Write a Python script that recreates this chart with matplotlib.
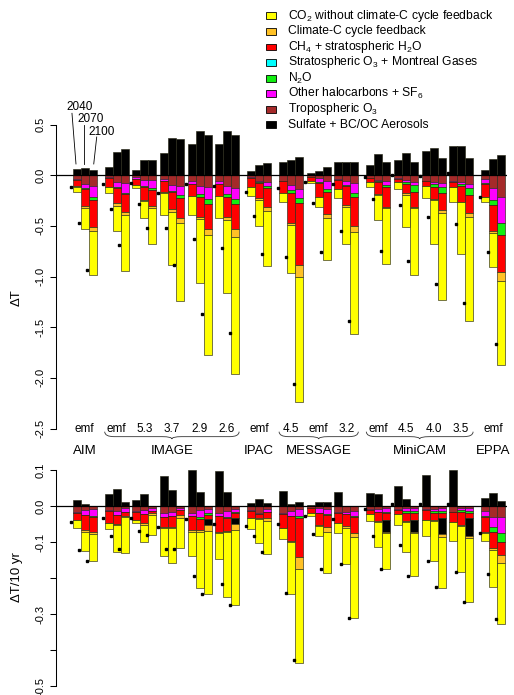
import matplotlib
matplotlib.use('agg')
import matplotlib.pyplot as plt
import numpy as np
from matplotlib.patches import Rectangle, PathPatch
from matplotlib.path import Path

plt.rcParams['font.family'] = ['Liberation Sans', 'DejaVu Sans']

# scenario layout: models and their scenarios, 3 years per scenario
models = ['AIM', 'IMAGE', 'IPAC', 'MESSAGE', 'MiniCAM', 'EPPA']
model_scen = [['emf'], ['emf', '5.3', '3.7', '2.9', '2.6'], ['emf'],
              ['4.5', 'emf', '3.2'], ['emf', '4.5', '4.0', '3.5'], ['emf']]
years = ['2040', '2070', '2100']
braced = ['IMAGE', 'MESSAGE', 'MiniCAM']

legend_labels = ['CO$\\mathregular{_2}$ without climate-C cycle feedback',
                 'Climate-C cycle feedback',
                 'CH$\\mathregular{_4}$ + stratospheric H$\\mathregular{_2}$O',
                 'Stratospheric O$\\mathregular{_3}$ + Montreal Gases',
                 'N$\\mathregular{_2}$O',
                 'Other halocarbons + SF$\\mathregular{_6}$',
                 'Tropospheric O$\\mathregular{_3}$',
                 'Sulfate + BC/OC Aerosols']
colors = ['#FFFF00', '#FFC125', '#FF0000', '#00FFFF', '#11EE11', '#FF00FF', '#A52A2A', '#000000']

# ---- upper panel: dT (K), 15 scenarios x (2040, 2070, 2100) ----
dT_co2 = [-.050, -.205, -.430, -.050, -.250, -.555, -.035, -.175, -.355, -.220, -.525, -.770,
          -.185, -.636, -1.180, -.215, -.725, -1.355, -.082, -.257, -.550, -.089, -.470, -1.240,
          -.015, -.095, -.411, -.089, -.370, -1.014, -.056, -.250, -.560, -.076, -.317, -.659,
          -.122, -.433, -.862, -.148, -.515, -1.026, -.051, -.336, -.830]
dT_climc = [-.005, -.025, -.040, 0, -.030, -.030, 0, -.010, -.025, -.005, -.025, -.050,
            0, -.020, -.060, 0, -.030, -.075, 0, -.016, -.034, 0, -.023, -.115,
            0, -.005, -.039, 0, -.020, -.056, 0, -.006, -.009, 0, -.012, -.016,
            0, -.008, -.026, 0, -.005, -.040, -.005, -.026, -.090]
dT_ch4 = [-.065, -.160, -.270, -.090, -.140, -.175, -.055, -.125, -.155, -.105, -.175, -.200,
          -.115, -.200, -.245, -.115, -.200, -.245, -.088, -.147, -.188, -.111, -.296, -.609,
          -.040, -.135, -.225, -.088, -.180, -.290, -.037, -.114, -.197, -.028, -.093, -.148,
          -.047, -.119, -.164, -.053, -.155, -.174, -.125, -.253, -.361]
dT_strat = [0, 0, 0, 0, 0, 0, 0, 0, 0, 0, 0, 0, 0, 0, 0,
            0, 0, 0, 0, 0, 0, 0, 0, 0, 0, 0, 0, 0, 0, 0,
            0, 0, 0, 0, 0, 0, 0, 0, 0, 0, 0, 0, 0, 0, 0]
dT_n2o = [0, -.010, -.030, 0, -.010, -.015, 0, -.010, -.015, 0, -.010, -.025,
          0, -.025, -.050, 0, -.025, -.050, 0, -.014, -.023, 0, -.026, -.049,
          0, -.009, -.022, 0, -.010, -.032, 0, -.010, -.017, 0, -.015, -.062,
          0, -.038, -.060, 0, -.015, -.066, -.013, -.050, -.122]
dT_halo = [-.010, -.045, -.105, -.010, -.050, -.090, -.020, -.055, -.080, -.020, -.050, -.085,
           -.030, -.080, -.115, -.030, -.075, -.107, -.010, -.013, -.036, -.007, -.050, -.089,
           0, -.036, -.085, -.010, -.047, -.099, 0, -.014, -.042, -.005, -.024, -.037,
           -.005, -.018, -.039, -.005, -.021, -.042, -.032, -.115, -.257]
dT_trop = [-.035, -.085, -.105, -.020, -.070, -.080, -.020, -.050, -.050, -.040, -.100, -.110,
           -.060, -.105, -.120, -.060, -.110, -.128, -.020, -.053, -.069, -.053, -.095, -.138,
           -.020, -.030, -.053, -.040, -.053, -.079, -.026, -.046, -.053, -.030, -.046, -.063,
           -.053, -.063, -.079, -.060, -.069, -.086, -.040, -.128, -.210]
dT_aero = [.060, .070, .053, .085, .230, .260, .050, .150, .150, .220, .365, .355,
           .305, .440, .400, .305, .440, .400, .046, .100, .125, .135, .150, .184,
           .020, .046, .080, .128, .128, .128, .100, .207, .128, .150, .224, .135,
           .240, .270, .168, .290, .290, .174, .053, .158, .200]
dT_dot = [-.120, -.470, -.930, -.085, -.330, -.690, -.080, -.280, -.520, -.170, -.520, -.885,
          -.085, -.625, -1.370, -.110, -.720, -1.560, -.160, -.405, -.776, -.128, -.810, -2.060,
          -.070, -.270, -.757, -.090, -.550, -1.440, -.013, -.237, -.747, 0, -.290, -.850,
          -.010, -.408, -1.070, .020, -.480, -1.263, -.210, -.753, -1.668]

# ---- lower panel: dT per decade (K / 10 yr) ----
r_co2 = [-.023, -.051, -.075, -.019, -.076, -.100, -.009, -.048, -.056, -.077, -.099, -.086,
         -.067, -.158, -.176, -.073, -.181, -.208, -.031, -.065, -.093, -.030, -.143, -.261,
         -.007, -.027, -.116, -.028, -.102, -.225, -.020, -.069, -.102, -.031, -.083, -.118,
         -.044, -.111, -.142, -.052, -.128, -.178, -.022, -.102, -.169]
r_climc = [0, -.006, -.005, 0, -.003, -.003, 0, -.004, -.004, -.005, -.003, -.007,
           -.004, -.004, -.016, -.003, -.004, -.017, 0, -.003, -.007, 0, -.005, -.033,
           0, -.002, -.012, 0, -.004, -.013, 0, -.002, -.003, 0, -.002, -.005,
           0, -.002, -.007, 0, -.002, -.007, -.003, -.004, -.023]
r_ch4 = [-.019, -.042, -.042, -.031, -.025, -.012, -.021, -.026, -.007, -.027, -.029, -.014,
         -.039, -.032, -.012, -.043, -.035, -.014, -.021, -.013, -.016, -.040, -.068, -.109,
         -.014, -.034, -.035, -.029, -.034, -.043, -.011, -.024, -.019, -.011, -.023, -.020,
         -.028, -.019, -.014, -.026, -.037, -.014, -.040, -.047, -.037]
r_strat = [0, 0, 0, 0, 0, 0, 0, 0, 0, 0, 0, 0, 0, 0, 0,
           0, 0, 0, 0, 0, 0, 0, 0, 0, 0, 0, 0, 0, 0, 0,
           0, 0, 0, 0, 0, 0, 0, 0, 0, 0, 0, 0, 0, 0, 0]
r_n2o = [0, 0, -.003, 0, 0, 0, 0, 0, 0, 0, 0, 0,
         0, -.004, -.005, 0, -.003, -.004, 0, 0, -.002, 0, 0, -.006,
         0, 0, -.002, 0, 0, -.003, 0, 0, -.004, 0, -.006, -.006,
         0, -.006, -.007, 0, -.005, -.006, -.003, -.014, -.023]
r_halo = [-.004, -.014, -.019, -.004, -.012, -.010, -.005, -.011, -.007, -.010, -.012, -.005,
          -.008, -.020, -.011, -.008, -.018, -.009, -.002, -.002, -.009, -.003, -.013, -.019,
          0, -.013, -.013, -.003, -.006, -.015, -.002, -.009, -.010, -.002, -.007, -.007,
          -.002, -.005, -.007, -.002, -.005, -.008, -.014, -.027, -.046]
r_trop = [-.016, -.011, -.009, -.011, -.013, -.006, -.013, -.011, -.006, -.020, -.016, -.006,
          -.020, -.011, -.009, -.020, -.013, -.007, -.011, -.019, -.007, -.019, -.015, -.009,
          -.006, -.006, -.009, -.016, -.016, -.013, -.009, -.009, -.006, -.009, -.006, -.006,
          -.009, -.009, -.006, -.016, -.006, -.006, -.014, -.030, -.030]
r_aero = [.017, .005, 0, .034, .046, .012, .018, .032, 0, .083, .044, 0,
          .100, .038, -.016, .098, .040, -.016, .009, .019, .009, .043, .006, .012,
          .002, .012, .012, .040, 0, 0, .037, .032, -.032, .056, .019, -.032,
          .086, 0, -.044, .100, 0, -.049, .021, .037, .014]
r_dot = [-.045, -.121, -.154, -.032, -.083, -.120, -.032, -.069, -.080, -.057, -.119, -.120,
         -.037, -.194, -.244, -.051, -.217, -.275, -.056, -.083, -.127, -.050, -.241, -.428,
         -.027, -.078, -.175, -.037, -.161, -.312, -.008, -.082, -.176, .005, -.108, -.194,
         .005, -.152, -.226, .005, -.182, -.268, -.074, -.189, -.315]

W, H = 514, 695

# bar positions (bar width = 1)
gap_in, gap_out = 0.45, 1.0
scen_left = []
model_span = []
pos = 0.0
for scen in model_scen:
    start = pos
    for s in scen:
        scen_left.append(pos)
        pos += 3 + gap_in
    model_span.append((start, pos - gap_in))
    pos += gap_out - gap_in
scen_left = np.array(scen_left)
bar_left = (scen_left[:, None] + np.arange(3)[None, :]).ravel()
bar_x = bar_left + 0.5
scen_labels = [s for scen in model_scen for s in scen]

edge = '#2a2a1a'


def draw_panel(ax, co2, climc, ch4, strat, n2o, halo, trop, aero, dots):
    aero = np.array(aero)
    neg_aero = np.minimum(aero, 0)
    stack = [(trop, colors[6]), (halo, colors[5]), (n2o, colors[4]), (strat, colors[3]),
             (ch4, colors[2]), (neg_aero, colors[7]), (climc, colors[1]), (co2, colors[0])]
    base = np.zeros(len(bar_x))
    for vals, col in stack:
        vals = np.array(vals, dtype=float)
        ax.bar(bar_x, vals, width=1.0, bottom=base, color=col, edgecolor=edge, linewidth=0.45, zorder=2)
        base = base + vals
    ax.bar(bar_x, np.maximum(aero, 0), width=1.0, bottom=0, color='black', edgecolor=edge,
           linewidth=0.45, zorder=2)
    ax.plot(bar_left - 0.2, dots, 's', color='black', markersize=1.7, zorder=4)
    ax.axhline(0, color='black', lw=0.9, zorder=3)
    for s in ['top', 'right', 'bottom']:
        ax.spines[s].set_visible(False)
    ax.spines['left'].set_linewidth(0.75)
    ax.set_xticks([])
    ax.set_xlim(-(72.7 - 56) / 8, (507 - 72.7) / 8)
    ax.tick_params(axis='y', labelrotation=90, length=4.3, width=0.75, pad=3.5, labelsize=8)
    ax.patch.set_visible(False)


fig = plt.figure(figsize=(W / 100, H / 100), dpi=100)

# upper panel
ax1 = fig.add_axes([56 / W, 1 - 463.0 / H, 451 / W, (463.0 - 112.5) / H])
draw_panel(ax1, dT_co2, dT_climc, dT_ch4, dT_strat, dT_n2o, dT_halo, dT_trop, dT_aero, dT_dot)
ax1.set_ylim(-2.84, 0.62)
ax1.set_yticks([0.5, 0.0, -0.5, -1.0, -1.5, -2.0, -2.5])
ax1.set_yticklabels(['0.5', '0.0', '-0.5', '-1.0', '-1.5', '-2.0', '-2.5'])
for lab in ax1.get_yticklabels():
    lab.set_va('center')
ax1.spines['left'].set_bounds(-2.5, 0.5)

# scenario / model labels and braces
for xl, s in zip(scen_left, scen_labels):
    ax1.text(xl + 1.5, -2.504, s, ha='center', va='center', fontsize=8.5, clip_on=False)
for m, (a, b) in zip(models, model_span):
    xc = (a + b) / 2
    ax1.text(xc, -2.722, m, ha='center', va='center', fontsize=9.5, clip_on=False)
    if m in braced:
        yt, ym, yb, r = -2.531, -2.580, -2.603, 1.2
        verts = [(a, yt), (a, ym), (a + r, ym), (xc - r, ym), (xc, ym), (xc, yb),
                 (xc, ym), (xc + r, ym), (b - r, ym), (b, ym), (b, yt)]
        codes = [Path.MOVETO, Path.CURVE3, Path.CURVE3, Path.LINETO, Path.CURVE3, Path.CURVE3,
                 Path.CURVE3, Path.CURVE3, Path.LINETO, Path.CURVE3, Path.CURVE3]
        ax1.add_patch(PathPatch(Path(verts, codes), fill=False, lw=0.6, edgecolor='#333333',
                                clip_on=False))

# year annotations on the first scenario
year_text = [(0.91, 0.674), (2.26, 0.556), (3.64, 0.427)]
year_line = [((-0.09, 0.612), (0.41, 0.112)), ((1.45, 0.497), (1.45, 0.112)),
             ((3.0, 0.378), (2.63, 0.112))]
for yr, (tx, ty), (p0, p1) in zip(years, year_text, year_line):
    ax1.text(tx, ty, yr, ha='center', va='center', fontsize=8.5, clip_on=False)
    ax1.plot([p0[0], p1[0]], [p0[1], p1[1]], color='black', lw=0.6, clip_on=False)

# lower panel
ax2 = fig.add_axes([56 / W, 1 - 693.2 / H, 451 / W, (693.2 - 462.8) / H])
draw_panel(ax2, r_co2, r_climc, r_ch4, r_strat, r_n2o, r_halo, r_trop, r_aero, r_dot)
ax2.set_ylim(-0.52, 0.12)
ax2.set_yticks([0.1, 0.0, -0.1, -0.2, -0.3, -0.4, -0.5])
ax2.set_yticklabels(['0.1', '0.0', '-0.1', '', '-0.3', '', '-0.5'])
for lab in ax2.get_yticklabels():
    lab.set_va('center')
ax2.spines['left'].set_bounds(-0.5, 0.1)

fig.text(17 / W, 1 - 298 / H, '\u0394T', rotation=90, ha='center', va='center', fontsize=9.5)
fig.text(17 / W, 1 - 577 / H, '\u0394T/10 yr', rotation=90, ha='center', va='center', fontsize=9.5)

# legend
for k, (lab, col) in enumerate(zip(legend_labels, colors)):
    yc = 15.7 + 15.6 * k
    fig.add_artist(Rectangle((265.7 / W, 1 - (yc + 3.4) / H), 10 / W, 6.8 / H,
                             transform=fig.transFigure, facecolor=col, edgecolor='black', lw=0.6))
    fig.text(288.3 / W, 1 - yc / H, lab, ha='left', va='center', fontsize=8.7)

fig.savefig('out.png', dpi=100)
